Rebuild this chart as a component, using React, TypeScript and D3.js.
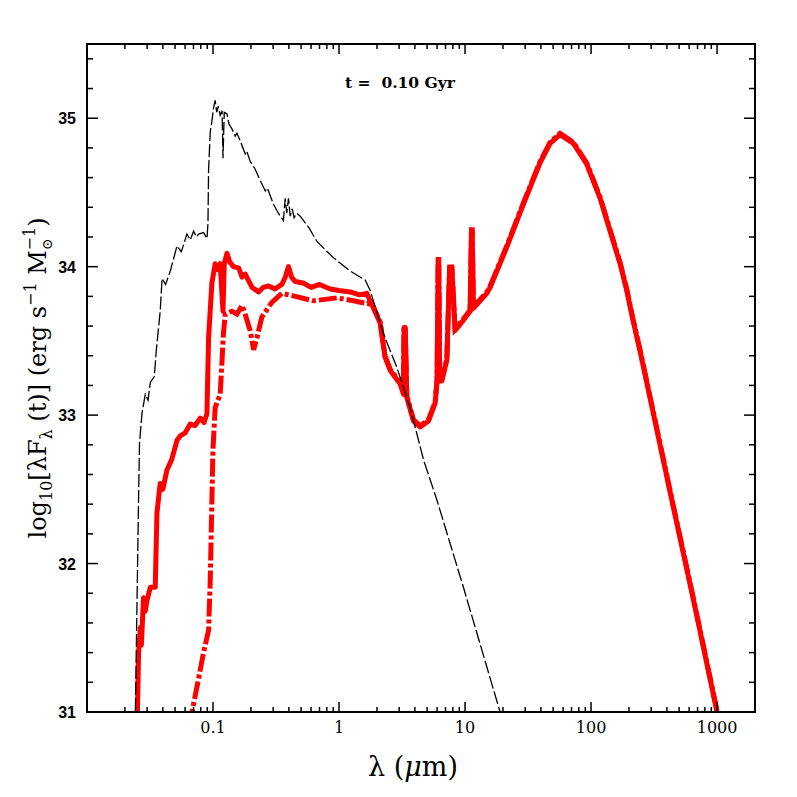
import React, { useMemo } from 'react';
import * as d3 from 'd3';

const W = 797;
const H = 797;
const plot = { left: 87, right: 755, top: 44, bottom: 712 };

// wavelength (micron) and log10(lambda F_lambda) for the unattenuated stars (black dashed)
const starLambda = [0.0238, 0.0242, 0.02567, 0.0261, 0.0273, 0.029, 0.0305, 0.0318, 0.0342, 0.0355, 0.0381, 0.0394, 0.042, 0.0458, 0.0518, 0.056, 0.0621, 0.066, 0.0701, 0.074, 0.077, 0.0841, 0.0895, 0.0912, 0.0922, 0.0951, 0.098, 0.101, 0.104, 0.107, 0.11, 0.114, 0.118, 0.12, 0.1228, 0.129, 0.134, 0.141, 0.15, 0.155, 0.164, 0.18, 0.185, 0.197, 0.215, 0.237, 0.26, 0.27, 0.302, 0.33, 0.362, 0.374, 0.385, 0.397, 0.41, 0.425, 0.44, 0.463, 0.492, 0.58, 0.667, 0.904, 1.227, 1.613, 1.767, 2.25, 2.88, 3.67, 4.68, 5.97, 9.71, 18.97, 20.5];
const starLogF = [30.9, 31.0, 32.45, 32.81, 33.01, 33.14, 33.1, 33.22, 33.26, 33.44, 33.7, 33.92, 33.88, 33.97, 34.14, 34.1, 34.22, 34.18, 34.24, 34.2, 34.22, 34.23, 34.19, 34.29, 34.65, 34.91, 34.98, 35.07, 35.12, 35.04, 35.08, 35.02, 35.05, 34.73, 35.04, 35.03, 34.96, 34.93, 34.88, 34.9, 34.85, 34.76, 34.78, 34.71, 34.66, 34.58, 34.51, 34.53, 34.42, 34.36, 34.31, 34.46, 34.36, 34.46, 34.34, 34.39, 34.33, 34.36, 34.34, 34.26, 34.17, 34.06, 33.97, 33.91, 33.84, 33.55, 33.32, 33.05, 32.7, 32.43, 31.84, 31.0, 30.9];

// total emission, UV/optical part (red solid)
const totalLambda = [0.025, 0.02567, 0.0265, 0.027, 0.0281, 0.029, 0.0299, 0.0318, 0.0348, 0.0359, 0.0381, 0.04, 0.0431, 0.047, 0.0518, 0.055, 0.06, 0.066, 0.072, 0.0792, 0.085, 0.0895, 0.0922, 0.098, 0.104, 0.108, 0.114, 0.12, 0.1228, 0.129, 0.136, 0.1455, 0.16, 0.17, 0.18, 0.204, 0.23, 0.25, 0.276, 0.31, 0.352, 0.375, 0.397, 0.42, 0.45, 0.52, 0.6, 0.7, 0.851, 1.0, 1.227, 1.45, 1.66];
const totalLogF = [30.9, 31.4, 31.57, 31.45, 31.77, 31.68, 31.75, 31.84, 31.84, 32.34, 32.54, 32.5, 32.63, 32.7, 32.83, 32.86, 32.88, 32.94, 32.93, 32.98, 32.95, 33.01, 33.52, 33.89, 34.02, 33.98, 34.02, 33.7, 34.02, 34.09, 34.03, 34.0, 33.99, 33.93, 33.95, 33.86, 33.83, 33.86, 33.87, 33.85, 33.88, 33.93, 34.0, 33.93, 33.9, 33.89, 33.86, 33.88, 33.85, 33.84, 33.83, 33.81, 33.82];

// other geometry, UV/optical part (red dash-dot)
const altLambda = [0.0675, 0.0681, 0.0746, 0.0841, 0.0922, 0.0951, 0.098, 0.0998, 0.104, 0.114, 0.118, 0.121, 0.125, 0.141, 0.155, 0.17, 0.18, 0.197, 0.21, 0.223, 0.244, 0.293, 0.352, 0.45, 0.627, 0.962, 1.3, 1.71];
const altLogF = [30.9, 31.0, 31.17, 31.4, 31.55, 31.89, 32.43, 32.76, 33.05, 33.14, 33.37, 33.55, 33.68, 33.7, 33.68, 33.74, 33.68, 33.57, 33.44, 33.52, 33.66, 33.76, 33.82, 33.8, 33.77, 33.79, 33.77, 33.75];

// near-IR to submm part shared by both red curves
const irLambda = [1.767, 2.12, 2.32, 2.55, 3.06, 3.25, 3.28, 3.35, 3.45, 3.9, 4.4, 5.12, 5.79, 6.0, 6.12, 6.18, 6.3, 6.54, 7.17, 7.55, 7.86, 8.34, 9.71, 10.97, 11.25, 11.4, 11.65, 14.88, 15.8, 21.4, 29.0, 39.4, 47.3, 56.8, 72.4, 92.5, 118, 150, 170, 192, 215, 245, 437, 648, 994, 1050];
const irLogF = [33.77, 33.62, 33.39, 33.3, 33.21, 33.14, 33.59, 33.59, 33.12, 32.96, 32.92, 32.96, 33.08, 33.23, 34.04, 34.04, 33.23, 33.23, 33.37, 33.99, 33.99, 33.57, 33.64, 33.7, 34.24, 34.24, 33.72, 33.82, 33.86, 34.13, 34.42, 34.7, 34.83, 34.89, 34.83, 34.69, 34.46, 34.17, 34.02, 33.84, 33.64, 33.43, 32.43, 31.76, 31.01, 30.9];

const xMajor = [0.1, 1, 10, 100, 1000];
const yMajor = [31, 32, 33, 34, 35];

const zip = (a: number[], b: number[]) => a.map((v, i) => [v, b[i]] as [number, number]);

export default function App() {
  const x = useMemo(() => d3.scaleLog().domain([0.01, 2000]).range([plot.left, plot.right]), []);
  const y = useMemo(() => d3.scaleLinear().domain([31, 35.5]).range([plot.bottom, plot.top]), []);

  const line = d3.line<[number, number]>().x(d => x(d[0])).y(d => y(d[1]));

  const xMinor: number[] = [];
  for (let dec = 0.01; dec < 2000; dec *= 10) {
    for (let k = 1; k <= 9; k++) {
      const v = +(k * dec).toPrecision(3);
      if (v <= 2000 && !xMajor.includes(v)) xMinor.push(v);
    }
  }
  const yMinor = d3.range(31, 35.5, 0.2).map(v => +v.toFixed(1)).filter(v => !yMajor.includes(v));

  const starPts = zip(starLambda, starLogF);
  const totalPts = zip(totalLambda, totalLogF).concat(zip(irLambda, irLogF));
  const altPts = zip(altLambda, altLogF).concat(zip(irLambda, irLogF.map(v => v + 0.008)));

  const serif = '"DejaVu Serif", serif';

  return (
    <svg width={W} height={H} style={{ position: 'absolute', left: 0, top: 0, background: '#fff' }}>
      <defs>
        <clipPath id="plotClip">
          <rect x={plot.left} y={plot.top} width={plot.right - plot.left} height={plot.bottom - plot.top} />
        </clipPath>
      </defs>

      <g clipPath="url(#plotClip)" fill="none">
        <path d={line(altPts) || ''} stroke="#ff0000" strokeWidth={5} strokeDasharray="18,3,4,3" />
        <path d={line(totalPts) || ''} stroke="#ff0000" strokeWidth={5} strokeLinejoin="round" />
        <path d={line(starPts) || ''} stroke="#000" strokeWidth={1.3} strokeDasharray="13,3" />
      </g>

      {/* ticks on all four sides */}
      <g stroke="#000" strokeWidth={1.5}>
        {xMajor.map(v => (
          <g key={'xM' + v}>
            <line x1={x(v)} x2={x(v)} y1={plot.bottom} y2={plot.bottom - 10} />
            <line x1={x(v)} x2={x(v)} y1={plot.top} y2={plot.top + 10} />
          </g>
        ))}
        {xMinor.map(v => (
          <g key={'xm' + v}>
            <line x1={x(v)} x2={x(v)} y1={plot.bottom} y2={plot.bottom - 5} />
            <line x1={x(v)} x2={x(v)} y1={plot.top} y2={plot.top + 5} />
          </g>
        ))}
        {yMajor.map(v => (
          <g key={'yM' + v}>
            <line x1={plot.left} x2={plot.left + 11} y1={y(v)} y2={y(v)} />
            <line x1={plot.right} x2={plot.right - 11} y1={y(v)} y2={y(v)} />
          </g>
        ))}
        {yMinor.map(v => (
          <g key={'ym' + v}>
            <line x1={plot.left} x2={plot.left + 6} y1={y(v)} y2={y(v)} />
            <line x1={plot.right} x2={plot.right - 6} y1={y(v)} y2={y(v)} />
          </g>
        ))}
      </g>
      <rect x={plot.left} y={plot.top} width={plot.right - plot.left} height={plot.bottom - plot.top}
        fill="none" stroke="#000" strokeWidth={2} />

      {xMajor.map(v => (
        <text key={'xl' + v} x={x(v)} y={733} textAnchor="middle" fontFamily={serif} fontSize={16}>
          {d3.format('~g')(v)}
        </text>
      ))}
      {yMajor.map(v => (
        <text key={'yl' + v} x={76} y={y(v) + 6} textAnchor="end" fontFamily='"Liberation Sans", sans-serif'
          fontWeight="bold" fontSize={16}>
          {v}
        </text>
      ))}

      <text x={400} y={88} textAnchor="middle" fontFamily={serif} fontWeight="bold" fontSize={15.5} style={{ whiteSpace: 'pre' }}>
        {'t =  0.10 Gyr'}
      </text>

      <text x={413} y={776} textAnchor="middle" fontFamily={serif} fontSize={27}>
        λ (<tspan fontStyle="italic">μ</tspan>m)
      </text>

      <text transform={`translate(46, ${378}) rotate(-90)`} textAnchor="middle" fontFamily={serif} fontSize={24}>
        log<tspan fontSize={16} dy={6}>10</tspan>
        <tspan dy={-6}>[λF</tspan>
        <tspan fontSize={16} dy={6}>λ</tspan>
        <tspan dy={-6}> (t)]  (erg s</tspan>
        <tspan fontSize={16} dy={-10}>−1</tspan>
        <tspan dy={10}> M</tspan>
        <tspan fontSize={14} dy={6}>⊙</tspan>
        <tspan fontSize={16} dx={-12} dy={-17}>−1</tspan>
        <tspan dy={11}>)</tspan>
      </text>
    </svg>
  );
}
